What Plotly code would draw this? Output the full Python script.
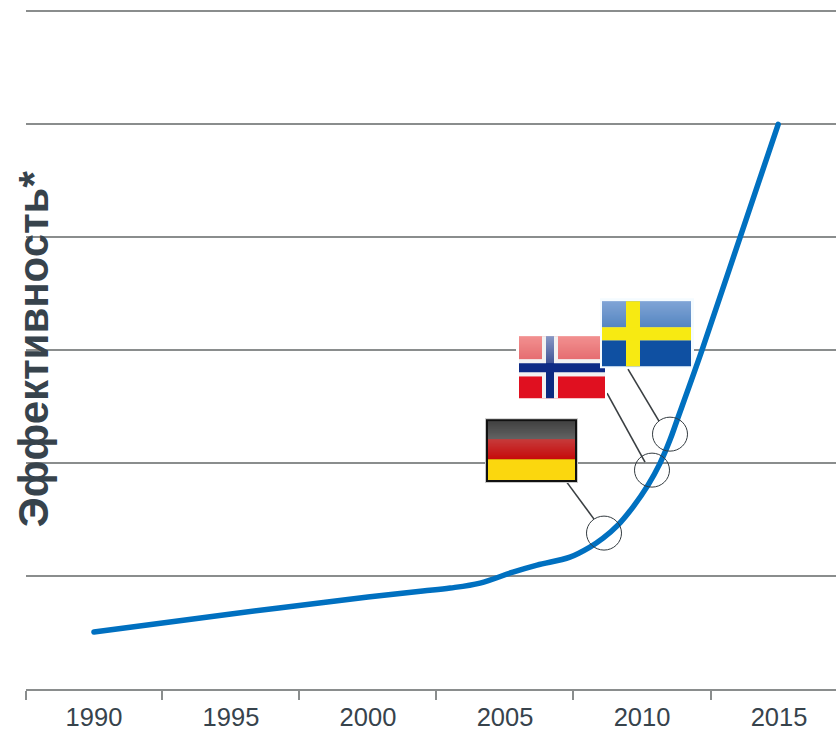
import plotly.graph_objects as go

years = [1990, 1995, 2000, 2002, 2003, 2004.09, 2005.29, 2006.17, 2007.37, 2008.1, 2008.58, 2009.12, 2009.67, 2010.22, 2010.66, 2011.02, 2011.28, 2012.19, 2013.58, 2014.97]
values = [0.504, 0.664, 0.814, 0.867, 0.894, 0.938, 1.035, 1.097, 1.168, 1.257, 1.336, 1.451, 1.611, 1.805, 2.0, 2.204, 2.38, 3.0, 4.0, 5.0]
tick_years = [1990, 1995, 2000, 2005, 2010, 2015]
tick_edges = [1987.53, 1992.5, 1997.5, 2002.5, 2007.5, 2012.5]
grid_values = [1, 2, 3, 4, 5, 6]
y_title = "Эффективность*"

W, H = 836, 732
L, B = 26, 43
Y_TOP = 6.03
UNIT = 113
T = H - B - Y_TOP * UNIT
X0, X1 = 1987.52, 2017.08
DARK = "#37434c"
GREY = "#8a8d8d"


def px(x):
    return X0 + (x - L) / (W - L) * (X1 - X0)


def py(y):
    return (H - B - y) / UNIT


shapes = []


def rect(x0, y0, x1, y1, color, layer="between"):
    shapes.append(dict(type="rect", xref="x", yref="y", x0=px(x0), x1=px(x1), y0=py(y0), y1=py(y1),
                       fillcolor=color, line=dict(width=0), layer=layer))


def mix(a, b, t):
    ca = [int(a[i:i + 2], 16) for i in (1, 3, 5)]
    cb = [int(b[i:i + 2], 16) for i in (1, 3, 5)]
    return "#%02x%02x%02x" % tuple(round(p + (q - p) * t) for p, q in zip(ca, cb))


def grad(x0, y0, x1, y1, a, b, n=8):
    h = (y1 - y0) / n
    for i in range(n):
        rect(x0, y0 + i * h, x1, y0 + (i + 1) * h + 0.4, mix(a, b, i / (n - 1)))


def link(x0, y0, x1, y1):
    shapes.append(dict(type="line", xref="x", yref="y", x0=px(x0), x1=px(x1), y0=py(y0), y1=py(y1),
                       line=dict(color="#3a3f42", width=1.6), layer="between"))


def ring(cx, cy, r=17.5):
    shapes.append(dict(type="circle", xref="x", yref="y", x0=px(cx - r), x1=px(cx + r),
                       y0=py(cy + r - 0.5), y1=py(cy - r + 0.5), line=dict(color="#333b40", width=1),
                       fillcolor="rgba(0,0,0,0)", layer="above"))


# leader lines and circles
link(566, 481, 594, 519)
link(607, 393, 645, 462)
link(628, 369, 659, 421)
ring(604, 533)
ring(652, 470)
ring(670, 434)

# Germany
rect(485, 418, 578, 483, "#c8c8c8")
rect(486, 419, 577, 482, "#111111")
grad(488, 421, 575, 439, "#4a4a4a", "#6e6e6e", 18)
grad(488, 439, 575, 459, "#e04040", "#e00c0c", 20)
rect(488, 459, 575, 480, "#fbd70e")

# Norway
rect(516, 332, 607, 400, "#ffffff")
grad(519, 336, 605, 359, "#f08080", "#e25a5e", 23)
rect(519, 376, 605, 398, "#e01020")
rect(542, 336, 558, 398, "#f2f2f2")
rect(519, 359, 605, 376, "#f2f2f2")
grad(546, 336, 554, 363, "#7d8fc0", "#34488f", 27)
rect(546, 363, 554, 398, "#0b2a80")
rect(519, 363, 605, 372, "#0d2a85")

# Sweden
rect(600, 298, 694, 368, "#f4fbff")
grad(602, 301, 691, 327, "#6f97d0", "#3f76b8", 26)
rect(602, 340, 691, 366, "#0f50a2")
rect(626, 301, 640, 366, "#f7ea12")
rect(602, 327, 691, 340, "#f7ea12")

fig = go.Figure()
fig.add_trace(go.Scatter(x=years, y=values, mode="lines", hoverinfo="skip", showlegend=False,
                         line=dict(color="#0070c0", width=5.5, shape="spline", smoothing=1)))

fig.update_layout(
    width=W, height=H, margin=dict(l=L, r=0, t=T, b=B, pad=0, autoexpand=False),
    paper_bgcolor="white", plot_bgcolor="white", shapes=shapes,
    font=dict(family="Liberation Sans, Arial, sans-serif", color=DARK),
    annotations=[dict(text=f"<b>{y_title}</b>", xref="paper", yref="paper", x=(33 - L) / (W - L), y=(H - B - 349) / (H - B - T),
                      textangle=-90, showarrow=False, xanchor="center", yanchor="middle",
                      font=dict(size=42, color=DARK))],
)
fig.update_xaxes(range=[X0, X1], tickmode="array", tickvals=tick_years, ticktext=[str(v) for v in tick_years],
                 ticks="", showgrid=False, showline=True, linecolor=GREY, linewidth=2, zeroline=False, automargin=False,
                 ticklabelstandoff=4, tickfont=dict(size=25.5, color=DARK),
                 minor=dict(tickmode="array", tickvals=tick_edges, ticks="outside", ticklen=9, tickwidth=2, tickcolor=GREY, showgrid=False))
fig.update_yaxes(range=[0, Y_TOP], tickmode="array", tickvals=grid_values, showticklabels=False, ticks="",
                 showgrid=True, gridcolor=GREY, gridwidth=1.6, zeroline=False, showline=False, automargin=False)

fig.write_html("out.html", config=dict(displayModeBar=False),
               post_script="document.body.style.margin='0';document.documentElement.style.overflow='hidden';"
                           "document.querySelectorAll('.js-line').forEach(p=>p.style.strokeLinecap='round');")
